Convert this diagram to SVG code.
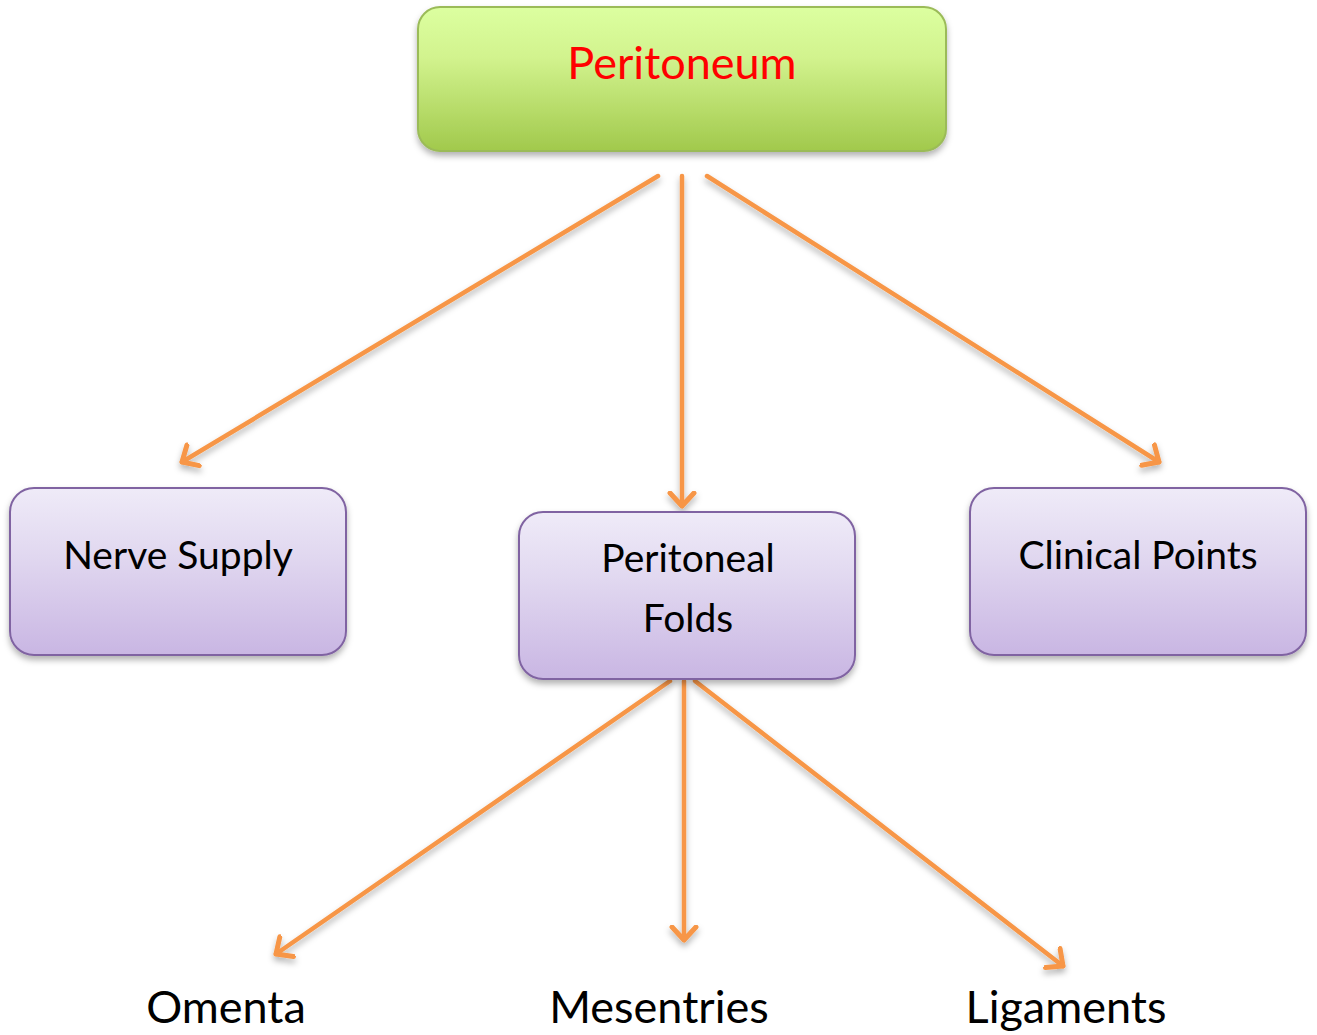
<svg xmlns="http://www.w3.org/2000/svg" width="1317" height="1035" viewBox="0 0 1317 1035">
<style>
.t{font-family:Lato,"Open Sans","Liberation Sans",sans-serif;text-anchor:middle}
.box{stroke:#8064A2;stroke-width:2;fill:url(#gp)}
.c{stroke:#F79646;stroke-width:4.5;fill:none;stroke-linecap:round;marker-end:url(#ah)}
</style>
<defs>
<linearGradient id="gg" x1="0" y1="0" x2="0" y2="1">
<stop offset="0" stop-color="#DCFFA0"/><stop offset="0.35" stop-color="#D2F38E"/><stop offset="1" stop-color="#A1C94C"/>
</linearGradient>
<linearGradient id="gp" x1="0" y1="0" x2="0" y2="1">
<stop offset="0" stop-color="#EFEBF8"/><stop offset="0.4" stop-color="#E1D8F0"/><stop offset="1" stop-color="#C9B6E3"/>
</linearGradient>
<filter id="sh" x="-10%" y="-10%" width="120%" height="130%">
<feDropShadow dx="0" dy="4" stdDeviation="3" flood-color="#000" flood-opacity="0.3"/>
</filter>
<marker id="ah" markerUnits="userSpaceOnUse" markerWidth="30" markerHeight="30" refX="15" refY="15" orient="auto" viewBox="0 0 30 30">
<path d="M2,3 L15,15 L2,27" fill="none" stroke="#F79646" stroke-width="5" stroke-linecap="round" stroke-linejoin="round"/>
</marker>
</defs>
<g id="connectors" filter="url(#sh)">
<line class="c" x1="658" y1="176" x2="182" y2="462"/>
<line class="c" x1="682" y1="176" x2="682" y2="506"/>
<line class="c" x1="707" y1="176" x2="1159" y2="462"/>
<line class="c" x1="670" y1="681" x2="276" y2="954"/>
<line class="c" x1="684" y1="681" x2="684" y2="940"/>
<line class="c" x1="695" y1="681" x2="1063" y2="966"/>
</g>
<g id="peritoneum">
<rect x="418" y="7" width="528" height="144" rx="22" fill="url(#gg)" stroke="#9BBB59" stroke-width="2" filter="url(#sh)"/>
<text class="t" x="682" y="79" font-size="45" fill="#FF0000">Peritoneum</text>
</g>
<g id="nerve-supply">
<rect class="box" x="10" y="488" width="336" height="167" rx="24" filter="url(#sh)"/>
<text class="t" x="178" y="569" font-size="39" fill="#000">Nerve Supply</text>
</g>
<g id="peritoneal-folds">
<rect class="box" x="519" y="512" width="336" height="167" rx="24" filter="url(#sh)"/>
<text class="t" x="688" y="572" font-size="39" fill="#000">Peritoneal</text>
<text class="t" x="688" y="632" font-size="39" fill="#000">Folds</text>
</g>
<g id="clinical-points">
<rect class="box" x="970" y="488" width="336" height="167" rx="24" filter="url(#sh)"/>
<text class="t" x="1138" y="569" font-size="39" fill="#000">Clinical Points</text>
</g>
<g id="omenta"><text class="t" x="226" y="1023" font-size="45" fill="#000">Omenta</text></g>
<g id="mesentries"><text class="t" x="659" y="1023" font-size="45" fill="#000">Mesentries</text></g>
<g id="ligaments"><text class="t" x="1066" y="1023" font-size="45" fill="#000">Ligaments</text></g>
</svg>
